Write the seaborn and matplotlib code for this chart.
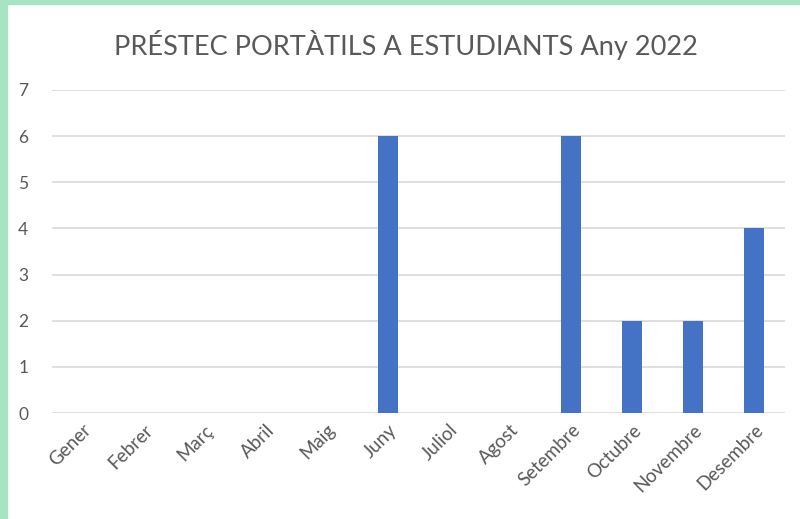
import matplotlib
matplotlib.use("Agg")
import matplotlib.pyplot as plt
import seaborn as sns
import pandas as pd
from matplotlib.patches import Rectangle

# Data
months = ["Gener", "Febrer", "Març", "Abril", "Maig", "Juny",
          "Juliol", "Agost", "Setembre", "Octubre", "Novembre", "Desembre"]
loans = [0, 0, 0, 0, 0, 6, 0, 0, 6, 2, 2, 4]
title = "PRÉSTEC PORTÀTILS A ESTUDIANTS Any 2022"

df = pd.DataFrame({"Mes": months, "Prestecs": loans})

sns.set_style("white")
plt.rcParams["font.family"] = ["Lato", "DejaVu Sans"]

fig = plt.figure(figsize=(8, 5.19), dpi=100)
ax = fig.add_axes([0.065, 0.2042, 0.916, 0.6224])

sns.barplot(data=df, x="Mes", y="Prestecs", color="#4472C4", width=0.33,
            saturation=1, linewidth=0, ax=ax, zorder=3)

ax.set_ylim(0, 7)
ax.set_yticks(range(0, 8))
ax.yaxis.grid(True, color="#D9D9D9", linewidth=1.2, zorder=0)
ax.set_axisbelow(True)
for s in ax.spines.values():
    s.set_visible(False)
ax.set_xlabel("")
ax.set_ylabel("")
ax.tick_params(axis="both", length=0, colors="#595959", labelsize=12.5)
ax.tick_params(axis="x", labelsize=13.5, pad=6)
ax.tick_params(axis="y", pad=17)
plt.setp(ax.get_xticklabels(), rotation=45, ha="right", rotation_mode="anchor")
ax.set_xlim(-0.5, 11.5)

fig.text(0.508, 0.913, title, ha="center", va="center", fontsize=19.5, color="#595959")

# green frame on the top and left edges
fig.patches.append(Rectangle((0, 0.992), 1, 0.008, transform=fig.transFigure,
                             color="#A8E4C4", zorder=0))
fig.patches.append(Rectangle((0, 0), 0.009, 1, transform=fig.transFigure,
                             color="#A8E4C4", zorder=0))

fig.savefig("out.png", dpi=100)
